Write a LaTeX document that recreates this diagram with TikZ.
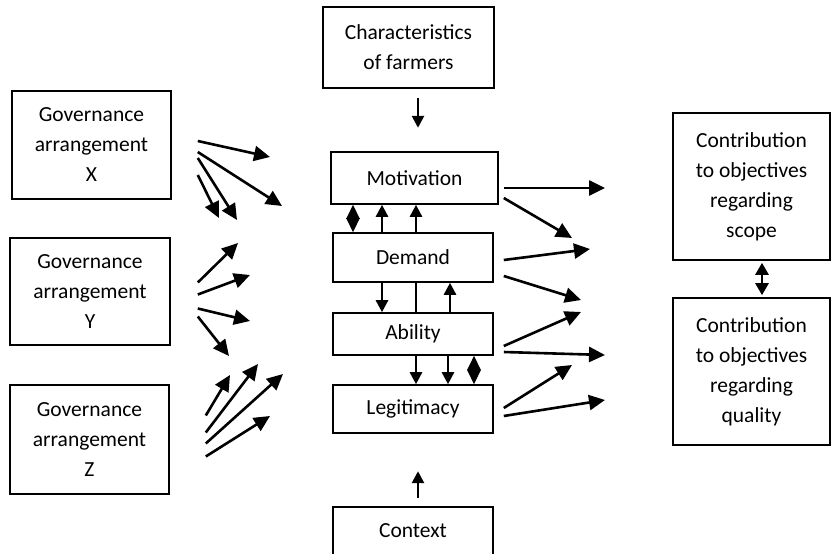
\documentclass[tikz,border=0pt]{standalone}
\usepackage{fontspec}
\setmainfont{Carlito}
\usetikzlibrary{arrows.meta,positioning,calc}
\tikzset{
    box/.style={rectangle, draw, line width=1.6pt, align=center, inner sep=0pt, font=\fontsize{21.5}{30}\selectfont},
    flow/.style={draw, line width=2.6pt, -{Triangle[length=16pt,width=15pt]}},
    vflow/.style={draw, line width=2.6pt, -{Triangle[length=12pt,width=12pt]}},
    link/.style={draw, line width=2.6pt},
    diam/.style={draw, line width=2.6pt, {Triangle[length=14pt,width=13pt]}-{Triangle[length=14pt,width=13pt]}},
    both/.style={draw, line width=2.6pt, {Triangle[length=12pt,width=13pt]}-{Triangle[length=12pt,width=13pt]}}
}
\begin{document}
\begin{tikzpicture}[x=1pt, y=-1pt]
    \useasboundingbox (0,0) rectangle (831,554);

    % Characteristics and context
    \node [box, minimum width=171pt, minimum height=81pt] (char) at (408.5,47.5) {Characteristics\\of farmers};
    \node [box, minimum width=160pt, minimum height=48pt] (ctx) at (413,531) {Context};

    % Centre column
    \node [box, minimum width=167pt, minimum height=52pt] (mot) at (414.5,178) {Motivation};
    \node [box, minimum width=160pt, minimum height=49pt] (dem) at (413,257.5) {Demand};
    \node [box, minimum width=160pt, minimum height=42pt] (abl) at (413,334) {Ability};
    \node [box, minimum width=160pt, minimum height=48pt] (leg) at (413,409) {Legitimacy};

    % Governance arrangements
    \node [box, minimum width=159pt, minimum height=108pt] (gx) at (91.5,145) {Governance\\arrangement\\X};
    \node [box, minimum width=160pt, minimum height=107pt] (gy) at (90,291.5) {Governance\\arrangement\\Y};
    \node [box, minimum width=159pt, minimum height=109pt] (gz) at (89.5,439.5) {Governance\\arrangement\\Z};

    % Contributions
    \node [box, minimum width=157pt, minimum height=147pt] (scope) at (751.5,186.5) {Contribution\\to objectives\\regarding\\scope};
    \node [box, minimum width=157pt, minimum height=147pt] (qual) at (751.5,371.5) {Contribution\\to objectives\\regarding\\quality};

    % Vertical arrows
    \coordinate (chartip) at ($(418,0 |- char.south)+(0,9)$);
    \draw [vflow] (chartip) -- ++(0,30);
    \coordinate (ctxtip) at ($(418,0 |- ctx.north)+(0,-8)$);
    \draw [vflow] (ctxtip) -- ++(0,-27);

    \draw [diam] (353,0 |- mot.south) -- (353,0 |- dem.north);
    \draw [vflow] (382,0 |- dem.north) -- (382,0 |- mot.south);
    \draw [vflow] (416,0 |- dem.north) -- (416,0 |- mot.south);

    \draw [vflow] (382,0 |- dem.south) -- (382,0 |- abl.north);
    \draw [link] (416,0 |- dem.south) -- (416,0 |- abl.north);
    \draw [vflow] (450,0 |- abl.north) -- (450,0 |- dem.south);

    \draw [vflow] (416,0 |- abl.south) -- (416,0 |- leg.north);
    \draw [vflow] (448,0 |- abl.south) -- (448,0 |- leg.north);
    \draw [diam] (474,0 |- abl.south) -- (474,0 |- leg.north);

    \draw [both] ($(762,0 |- scope.south)+(0,2)$) -- ($(762,0 |- qual.north)+(0,-2)$);

    % Arrows out of the governance boxes
    \foreach \sy/\ex/\ey in {-4/270/157, 7/282/206, 13/237/220, 30/219/218} {
        \coordinate (s) at ($(gx.east)+(26,\sy)$);
        \draw [flow] (s) -- (\ex,\ey);
    }
    \foreach \sy/\ex/\ey in {-9/238/243, 3/250/275, 17/250/321, 25/229/356} {
        \coordinate (s) at ($(gy.east)+(27,\sy)$);
        \draw [flow] (s) -- (\ex,\ey);
    }
    \foreach \sy/\ex/\ey in {-24/230/375, -7/258/364, 4/283/374, 17/270/416} {
        \coordinate (s) at ($(gz.east)+(36,\sy)$);
        \draw [flow] (s) -- (\ex,\ey);
    }

    % Arrows towards the contributions
    \foreach \sy/\ex/\ey in {188/605/188, 198/572/238, 260/590/249, 276/581/300, 346/581/312, 352/605/355, 408/572/365, 416/605/400} {
        \coordinate (s) at ($(mot.east |- 0,\sy)+(5,0)$);
        \draw [flow] (s) -- (\ex,\ey);
    }
\end{tikzpicture}
\end{document}
